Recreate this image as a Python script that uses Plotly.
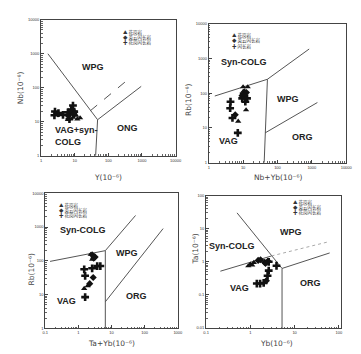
import plotly.graph_objects as go

W, H = 361, 354

# ---------------- data ----------------
names = ["花岗岩", "英云闪长岩", "花岗闪长岩"]
names_p2 = ["花岗岩", "英云闪长岩", "闪长岩"]

# Panel 1: Nb vs Y
p1_granite_x = [6.3, 11, 14.5, 12, 9]
p1_granite_y = [11.5, 15.5, 13, 12, 13.5]
p1_tonalite_x = [3.2, 7, 8.5, 10, 6.5, 9.5]
p1_tonalite_y = [17, 17, 21, 19, 15, 16.5]
p1_grano_x = [2.6, 2.5, 3.3, 6.3, 8.9, 7.9, 9.7, 7, 4.5]
p1_grano_y = [20, 15.5, 18, 19, 30, 23, 20, 12, 16]

# Panel 2: Rb vs Nb+Yb
p2_granite_x = [10, 13.6, 12.2, 7.2, 11]
p2_granite_y = [152, 152, 33, 15.5, 90]
p2_tonalite_x = [5.9, 10.8, 12.5, 9.3, 11.5]
p2_tonalite_y = [24, 110, 105, 85, 75]
p2_grano_x = [4.3, 4.2, 4.9, 7, 10.4, 9.4, 11.6, 13]
p2_grano_y = [57, 37, 19.4, 7.2, 98, 71, 57, 71]

# Panel 3: Rb vs Ta+Yb
p3_granite_x = [2.35, 2.6, 3.0, 1.9, 1.5]
p3_granite_y = [154, 110, 140, 18, 15]
p3_tonalite_x = [2.6, 3.2, 2.8, 2.2, 2.9]
p3_tonalite_y = [150, 130, 32, 21, 120]
p3_grano_x = [1.5, 1.6, 2.6, 3.7, 4.6, 1.6]
p3_grano_y = [56, 36, 60, 70, 70, 8.4]

# Panel 4: Ta vs Yb
p4_granite_x = [0.9, 1.0, 1.2, 1.1]
p4_granite_y = [0.75, 0.85, 0.95, 0.8]
p4_tonalite_x = [1.5, 1.7, 2.1, 2.5, 2.3, 2.2]
p4_tonalite_y = [1.1, 1.15, 0.96, 1.05, 0.27, 0.9]
p4_grano_x = [3.9, 2.6, 2.45, 1.4, 1.66, 2.0, 2.6]
p4_grano_y = [0.76, 0.54, 0.38, 0.22, 0.22, 0.23, 1.0]

# Boundary lines
b1_a_x = [1.6, 48, 42]; b1_a_y = [1000, 11.5, 1]
b1_b_x = [48, 950]; b1_b_y = [11.5, 110]
b1_d_x = [29, 360]; b1_d_y = [21, 165]

b2_a_x = [1.5, 51, 835]; b2_a_y = [83, 252, 1870]
b2_b_x = [51, 43.6, 41]; b2_b_y = [252, 7.2, 1]
b2_c_x = [43.6, 1450]; b2_c_y = [7.2, 54]

b3_a_x = [0.14, 6.5, 53]; b3_a_y = [96, 200, 2200]
b3_b_x = [6.5, 6.5]; b3_b_y = [200, 1]
b3_c_x = [6.5, 360]; b3_c_y = [6.1, 900]

b4_a_x = [0.5, 5.2, 5.2]; b4_a_y = [30, 0.63, 0.01]
b4_b_x = [0.21, 3.0]; b4_b_y = [0.52, 1.5]
b4_c_x = [5.2, 62]; b4_c_y = [0.63, 1.85]
b4_d_x = [3.0, 62]; b4_d_y = [1.5, 4.1]

# tick labels
ticks_1_10000 = [1, 10, 100, 1000, 10000]
ticks_01_1000 = [0.1, 1, 10, 100, 1000]
ticks_001_100 = [0.01, 0.1, 1, 10, 100]
ticks_01_100 = [0.1, 1, 10, 100]

# ---------------- figure ----------------
fig = go.Figure()
LC = "#555555"
MC = "#111111"

def add_line(x, y, n, dash="solid", color=LC, width=1):
    fig.add_trace(go.Scatter(x=x, y=y, mode="lines", xaxis=f"x{n}", yaxis=f"y{n}",
                             line=dict(color=color, width=width, dash=dash),
                             showlegend=False, hoverinfo="skip"))

def add_pts(x, y, n, sym, size):
    fig.add_trace(go.Scatter(x=x, y=y, mode="markers", xaxis=f"x{n}", yaxis=f"y{n}",
                             marker=dict(symbol=sym, size=size, color=MC,
                                         line=dict(width=0)),
                             showlegend=False))

add_line(b1_a_x, b1_a_y, 1); add_line(b1_b_x, b1_b_y, 1)
add_line(b1_d_x, b1_d_y, 1, dash="dash")
add_line(b2_a_x, b2_a_y, 2); add_line(b2_b_x, b2_b_y, 2); add_line(b2_c_x, b2_c_y, 2)
add_line(b3_a_x, b3_a_y, 3); add_line(b3_b_x, b3_b_y, 3); add_line(b3_c_x, b3_c_y, 3)
add_line(b4_a_x, b4_a_y, 4); add_line(b4_b_x, b4_b_y, 4); add_line(b4_c_x, b4_c_y, 4)
add_line(b4_d_x, b4_d_y, 4, dash="dot", color="#aaaaaa")

for n, (gx, gy, tx, ty, cx, cy) in enumerate([
        (p1_granite_x, p1_granite_y, p1_tonalite_x, p1_tonalite_y, p1_grano_x, p1_grano_y),
        (p2_granite_x, p2_granite_y, p2_tonalite_x, p2_tonalite_y, p2_grano_x, p2_grano_y),
        (p3_granite_x, p3_granite_y, p3_tonalite_x, p3_tonalite_y, p3_grano_x, p3_grano_y),
        (p4_granite_x, p4_granite_y, p4_tonalite_x, p4_tonalite_y, p4_grano_x, p4_grano_y)], start=1):
    add_pts(cx, cy, n, "cross", 6.5)
    add_pts(tx, ty, n, "diamond", 5.5)
    add_pts(gx, gy, n, "triangle-up", 5.5)

def fx(px):
    return px / W

def fy(py):
    return 1 - py / H

panels = {
    1: dict(xd=[fx(39), fx(177)], yd=[fy(155), fy(17)], xr=[0, 4], yr=[0, 4],
            xt=ticks_1_10000, yt=ticks_1_10000),
    2: dict(xd=[fx(211), fx(352)], yd=[fy(162), fy(21)], xr=[0, 4], yr=[0, 4],
            xt=ticks_1_10000, yt=ticks_1_10000),
    3: dict(xd=[fx(43.3), fx(179.3)], yd=[fy(330), fy(193)], xr=[-1, 3], yr=[0, 4],
            xt=ticks_01_1000, yt=ticks_1_10000),
    4: dict(xd=[fx(208.3), fx(346.7)], yd=[fy(329.7), fy(195.3)], xr=[-1, 2.05], yr=[-2, 2],
            xt=ticks_01_100, yt=ticks_001_100),
}

tickfont = dict(family="Liberation Sans", size=4, color="#333")
layout = {}
for n, p in panels.items():
    common = dict(type="log", showline=True, linecolor="#444", linewidth=1, mirror=True,
                  ticks="inside", ticklen=3, tickcolor="#444", showgrid=False, zeroline=False,
                  tickfont=tickfont,
                  minor=dict(ticks="inside", ticklen=1.5, tickcolor="#666", dtick="D1", showgrid=False))
    layout[f"xaxis{n}"] = dict(common, domain=p["xd"], range=p["xr"], anchor=f"y{n}",
                               tickvals=p["xt"], ticktext=[f"{v:g}" for v in p["xt"]])
    layout[f"yaxis{n}"] = dict(common, domain=p["yd"], range=p["yr"], anchor=f"x{n}",
                               tickvals=p["yt"], ticktext=[f"{v:g}" for v in p["yt"]])

fig.update_layout(**layout)

ann = []
LBL = dict(family="Liberation Sans", size=9, color="#222")

def region(n, text, lx, ly, **kw):
    d = dict(x=lx, y=ly, xref=f"x{n}", yref=f"y{n}", text=f"<b>{text}</b>", showarrow=False,
             font=LBL, xanchor="center", yanchor="middle")
    d.update(kw)
    ann.append(d)

region(1, "WPG", 1.54, 2.61)
region(1, "ONG", 2.58, 0.81)
region(1, "VAG+syn-<br>COLG", 0.37, 0.58, xanchor="left", align="left")
region(2, "Syn-COLG", 1.03, 2.89)
region(2, "WPG", 2.31, 1.84)
region(2, "VAG", 0.57, 0.62)
region(2, "ORG", 2.74, 0.74)
region(3, "Syn-COLG", 0.14, 2.92)
region(3, "WPG", 1.46, 2.24)
region(3, "VAG", -0.36, 0.82)
region(3, "ORG", 1.76, 0.96)
region(4, "WPG", 0.91, 0.91)
region(4, "Syn-COLG", -0.41, 0.47)
region(4, "VAG", -0.24, -0.78)
region(4, "ORG", 1.35, -0.63)

TITLE = dict(family="DejaVu Sans", size=7.5, color="#444")

def title(text, px, py, angle=0):
    ann.append(dict(x=fx(px), y=fy(py), xref="paper", yref="paper", text=text,
                    showarrow=False, font=TITLE, textangle=angle,
                    xanchor="center", yanchor="middle"))

title("Y(10⁻⁶)", 108, 177)
title("Nb+Yb(10⁻⁶)", 282, 177)
title("Ta+Yb(10⁻⁶)", 111, 345)
title("Yb(10⁻⁶)", 280, 345)
title("Nb(10⁻⁶)", 18, 86, -90)
title("Rb(10⁻⁶)", 190, 98, -90)
title("Rb(10⁻⁶)", 29, 270, -90)
title("Ta(10⁻⁶)", 197, 250, -90)

syms = ["▲", "◆", "✚"]
LEG = dict(family="Noto Sans CJK SC", size=4.5, color="#333")

def legend(px, rows, labels):
    for s, r, lab in zip(syms, rows, labels):
        ann.append(dict(x=fx(px), y=fy(r), xref="paper", yref="paper", text=f"{s} {lab}",
                        showarrow=False, font=LEG, xanchor="left", yanchor="middle"))

legend(121, [30, 35, 40], names)
legend(233, [33, 38.5, 44], names_p2)
legend(55, [205, 210.5, 216], names)
legend(295, [202, 207, 212], names)

fig.update_layout(annotations=ann, width=W, height=H, margin=dict(l=0, r=0, t=0, b=0),
                  paper_bgcolor="white", plot_bgcolor="white", showlegend=False)

fig.write_html("out.html", config=dict(displayModeBar=False))
